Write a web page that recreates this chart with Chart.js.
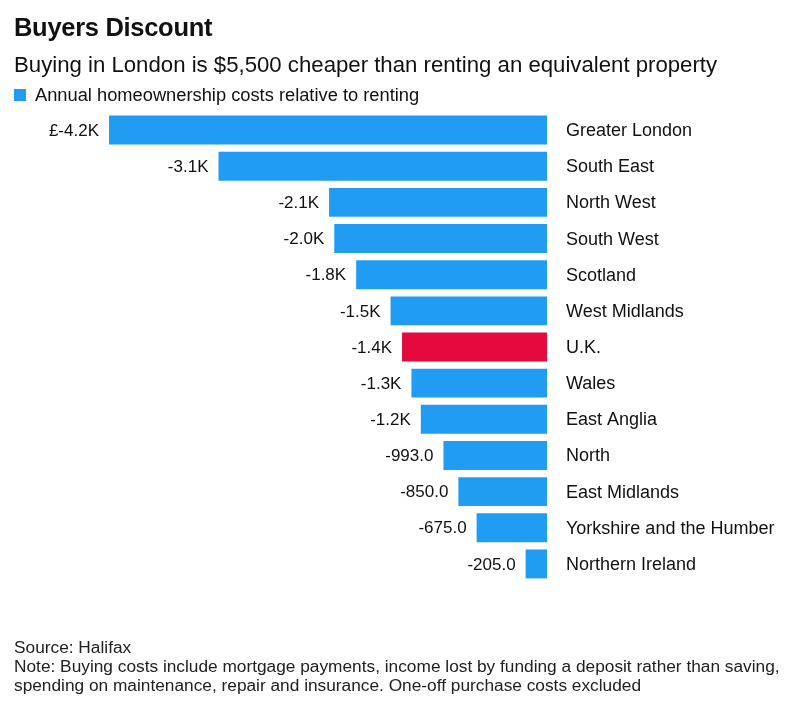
<!DOCTYPE html>
<html>
<head>
<meta charset="utf-8">
<script src="https://cdn.jsdelivr.net/npm/chart.js@4.4.0/dist/chart.umd.min.js"></script>
<style>
  body { margin: 0; background: #fff; font-family: "Liberation Sans", Arial, sans-serif; color: #111; }
  #wrap { position: relative; width: 805px; height: 716px; overflow: hidden; }
  #chart { position: absolute; left: 0; top: 0; }
  .t { position: absolute; left: 14px; white-space: nowrap; }
  #title { top: 13px; font-size: 25.5px; font-weight: bold; letter-spacing: -0.3px; }
  #sub { top: 52px; font-size: 22.2px; }
  #leg { top: 84px; font-size: 18.3px; }
  #leg span { display: inline-block; width: 12px; height: 12px; background: #209cf3; margin-right: 9px; vertical-align: 0px; }
  #foot { top: 638px; font-size: 17.3px; line-height: 19px; color: #222; }
</style>
</head>
<body>
<div id="wrap">
  <canvas id="chart" width="805" height="716"></canvas>
  <div class="t" id="title">Buyers Discount</div>
  <div class="t" id="sub">Buying in London is $5,500 cheaper than renting an equivalent property</div>
  <div class="t" id="leg"><span></span>Annual homeownership costs relative to renting</div>
  <div class="t" id="foot">Source: Halifax<br>Note: Buying costs include mortgage payments, income lost by funding a deposit rather than saving,<br>spending on maintenance, repair and insurance. One-off purchase costs excluded</div>
</div>
<script>
// data
var regions = ["Greater London", "South East", "North West", "South West", "Scotland", "West Midlands",
               "U.K.", "Wales", "East Anglia", "North", "East Midlands", "Yorkshire and the Humber", "Northern Ireland"];
var costs = [-4200, -3150, -2090, -2040, -1830, -1500, -1390, -1300, -1210, -993, -850, -675, -205];
var valueLabels = ["£-4.2K", "-3.1K", "-2.1K", "-2.0K", "-1.8K", "-1.5K", "-1.4K", "-1.3K", "-1.2K",
                   "-993.0", "-850.0", "-675.0", "-205.0"];

var BLUE = '#209cf3';
var RED = '#e6093d';

var barLabels = {
    id: 'barLabels',
    afterDatasetsDraw: function (chart) {
        var ctx = chart.ctx;
        var meta = chart.getDatasetMeta(0);
        var right = chart.chartArea.right;
        ctx.save();
        ctx.fillStyle = '#111';
        ctx.textBaseline = 'middle';
        meta.data.forEach(function (bar, i) {
            ctx.font = '17px "Liberation Sans", Arial, sans-serif';
            ctx.textAlign = 'right';
            ctx.fillText(valueLabels[i], bar.x - 10, bar.y + 1);
            ctx.font = '18px "Liberation Sans", Arial, sans-serif';
            ctx.textAlign = 'left';
            ctx.fillText(regions[i], right + 19, bar.y + 1);
        });
        ctx.restore();
    }
};

var ch = new Chart(document.getElementById('chart'), {
    type: 'bar',
    data: {
        labels: regions,
        datasets: [{
            data: costs,
            backgroundColor: regions.map(function (r) { return r === 'U.K.' ? RED : BLUE; }),
            borderWidth: 0,
            barPercentage: 0.8,
            categoryPercentage: 1.0
        }]
    },
    options: {
        indexAxis: 'y',
        responsive: false,
        animation: false,
        layout: { padding: { left: 109, right: 258, top: 112, bottom: 134 } },
        scales: {
            x: { display: false, min: -4200, max: 0 },
            y: { display: false }
        },
        plugins: {
            legend: { display: false },
            tooltip: { enabled: false }
        }
    },
    plugins: [barLabels]
});
</script>
</body>
</html>
